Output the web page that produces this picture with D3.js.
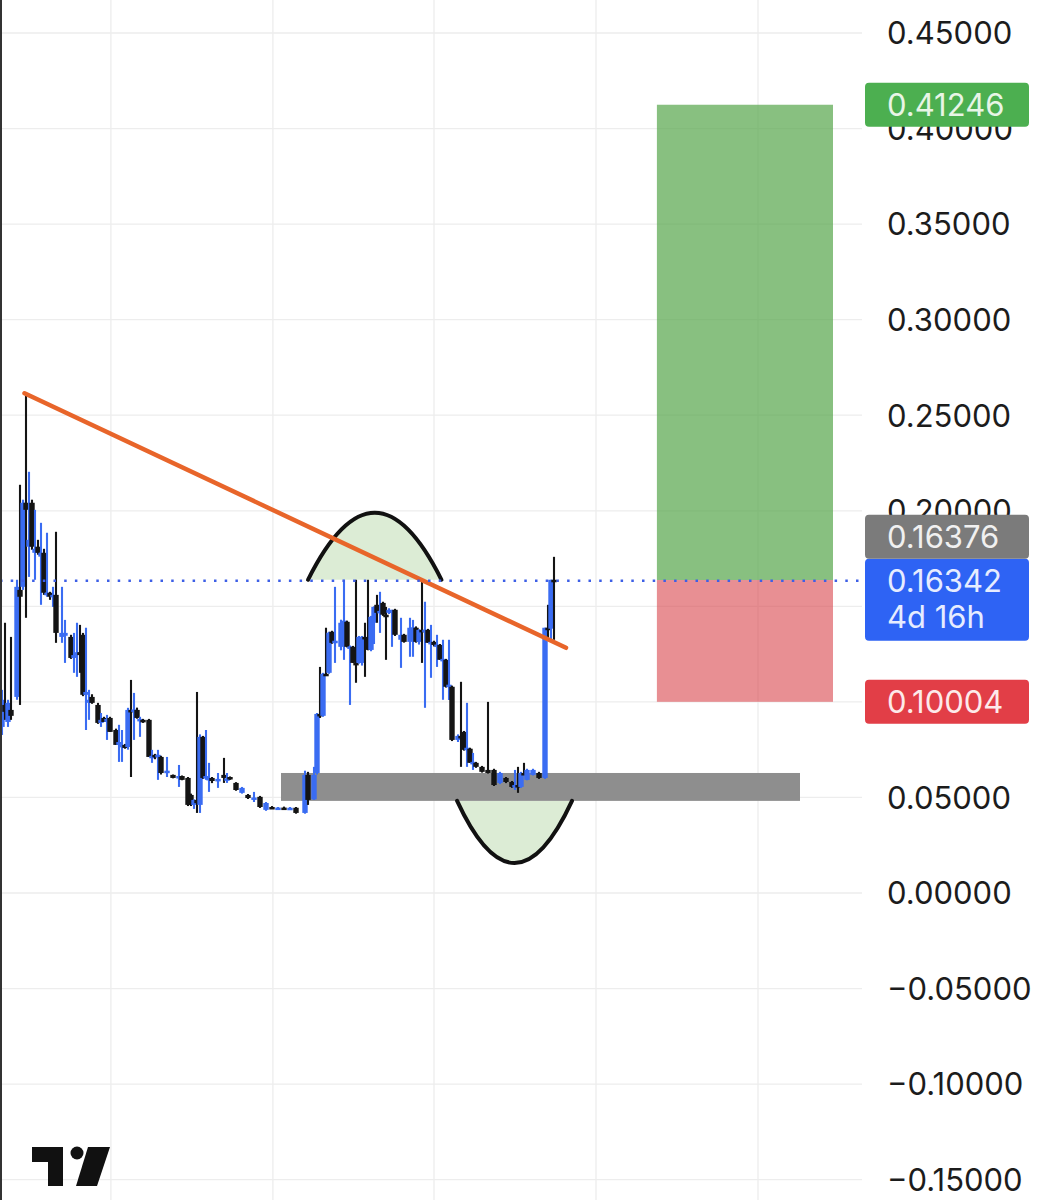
<!DOCTYPE html>
<html><head><meta charset="utf-8">
<script src="https://cdn.jsdelivr.net/npm/d3@7"></script>
<style>html,body{margin:0;padding:0;background:#fff;} svg{display:block}</style>
</head><body><svg id="c" width="1062" height="1200"></svg>
<script>
// ---- data: [day, open, high, low, close]
const candles = [
[0,.0869,.1063,.0827,.1011],[1,.0984,.1414,.0906,.0948],[2,.0895,.1011,.0869,.0995],[3,.0958,.1340,.0906,.0927],
[5,.1026,.1639,.1011,.1602],[6,.1586,.2136,.0984,.1550],[7,.1602,.2058,.1586,.2042],[8,.2042,.2618,.1440,.2005],
[9,.1812,.2204,.1654,.1848],[10,.2042,.2058,.1796,.1812],[11,.1780,.2005,.1639,.1801],[12,.1812,.1848,.1770,.1780],
[13,.1760,.1937,.1508,.1780],[14,.1780,.1801,.1560,.1571],[15,.1560,.1885,.1550,.1571],[16,.1571,.1576,.1534,.1550],
[17,.1550,.1602,.1497,.1560],[18,.1560,.1890,.1309,.1361],[20,.1340,.1602,.1309,.1361],[21,.1346,.1429,.1204,.1361],
[23,.1340,.1351,.1225,.1230],[24,.1230,.1361,.1152,.1245],[25,.1245,.1414,.1131,.1260],[26,.1260,.1403,.1152,.1245],
[27,.1351,.1361,.1030,.1037],[28,.1037,.1388,.0853,.1052],[29,.0995,.1063,.0906,.1011],[30,.1026,.1040,.0990,.0995],
[32,.0984,.0995,.0885,.0890],[33,.0890,.0942,.0869,.0906],[34,.0916,.0922,.0895,.0895],[35,.0895,.0932,.0801,.0911],
[36,.0916,.0922,.0843,.0843],[38,.0853,.0860,.0775,.0775],[39,.0775,.0880,.0686,.0790],[40,.0764,.0853,.0686,.0775],
[41,.0775,.0780,.0755,.0759],[42,.0764,.0969,.0750,.0958],[43,.0958,.1115,.0607,.0953],[44,.0953,.1047,.0801,.0960],
[45,.0958,.0970,.0912,.0916],[46,.0906,.0922,.0817,.0911],[47,.0906,.0911,.0890,.0895],[49,.0906,.0911,.0712,.0712],
[50,.0712,.0749,.0681,.0718],[51,.0723,.0728,.0700,.0712],[52,.0712,.0749,.0592,.0723],[53,.0712,.0718,.0620,.0628],
[55,.0628,.0712,.0607,.0640],[57,.0618,.0620,.0600,.0602],[59,.0602,.0670,.0555,.0612],[60,.0612,.0615,.0590,.0592],
[62,.0602,.0607,.0455,.0461],[63,.0513,.0520,.0455,.0461],[64,.0461,.0490,.0440,.0487],[65,.0487,.1052,.0419,.0470],
[66,.0461,.0830,.0419,.0817],[67,.0817,.0822,.0597,.0602],[68,.0602,.0853,.0592,.0612],[69,.0592,.0681,.0529,.0602],
[70,.0602,.0607,.0575,.0586],[72,.0586,.0628,.0550,.0597],[74,.0618,.0707,.0576,.0602],[75,.0592,.0628,.0576,.0600],
[76,.0607,.0610,.0592,.0597],[78,.0576,.0580,.0535,.0539],[80,.0524,.0555,.0520,.0550],[82,.0513,.0518,.0492,.0497],
[84,.0490,.0529,.0476,.0500],[86,.0503,.0508,.0445,.0450],[88,.0435,.0476,.0430,.0471],[90,.0450,.0455,.0440,.0445],
[92,.0445,.0450,.0440,.0447],[94,.0447,.0452,.0440,.0443],[96,.0443,.0450,.0438,.0446],[98,.0446,.0450,.0415,.0419],
[101,.0419,.0640,.0415,.0618],[102,.0618,.0634,.0461,.0487],[104,.0490,.0660,.0487,.0618],[105,.0628,.0942,.0620,.0937],
[106,.0937,.1183,.0916,.0930],[107,.0927,.1152,.0922,.1147],[108,.1147,.1388,.1140,.1142],[109,.1152,.1367,.1147,.1362],
[110,.1367,.1372,.1304,.1309],[111,.1309,.1602,.1204,.1320],[113,.1288,.1430,.1270,.1414],[114,.1414,.1639,.1220,.1425],
[115,.1419,.1425,.1285,.1288],[116,.1282,.1295,.0984,.1290],[117,.1288,.1293,.1204,.1204],[118,.1204,.1639,.1100,.1200],
[119,.1204,.1345,.1200,.1340],[120,.1204,.1345,.1190,.1340],[121,.1340,.1414,.1131,.1330],[122,.1330,.1639,.1270,.1272],
[123,.1272,.1450,.1265,.1445],[124,.1414,.1500,.1303,.1497],[125,.1508,.1560,.1414,.1466],[126,.1466,.1576,.1361,.1476],
[127,.1518,.1524,.1450,.1456],[128,.1456,.1497,.1220,.1450],[129,.1466,.1490,.1460,.1482],[130,.1470,.1482,.1288,.1478],
[131,.1482,.1487,.1345,.1351],[133,.1325,.1440,.1178,.1351],[134,.1351,.1356,.1310,.1314],[136,.1314,.1440,.1236,.1388],
[137,.1380,.1429,.1236,.1390],[138,.1388,.1395,.1310,.1314],[139,.1314,.1380,.1300,.1377],[140,.1377,.1639,.1204,.1370],
[141,.1370,.1524,.0969,.1377],[142,.1377,.1382,.1309,.1309],[143,.1309,.1403,.1126,.1314],[144,.1314,.1320,.1290,.1298],
[145,.1298,.1351,.1183,.1300],[146,.1298,.1303,.1220,.1220],[147,.1220,.1325,.1011,.1225],[148,.1220,.1225,.1075,.1079],
[149,.1079,.1325,.1010,.1090],[150,.1079,.1085,.0795,.0801],[152,.0801,.0830,.0790,.0822],[153,.0822,.1105,.0660,.0812],
[154,.0843,.0848,.0745,.0749],[155,.0749,.0995,.0660,.0760],[156,.0755,.0760,.0681,.0681],[157,.0675,.0733,.0644,.0686],
[158,.0681,.0686,.0655,.0660],[160,.0660,.0665,.0630,.0634],[162,.0644,.1000,.0625,.0628],[164,.0644,.0650,.0560,.0565],
[166,.0576,.0634,.0570,.0628],[168,.0602,.0607,.0575,.0581],[170,.0581,.0586,.0550,.0555],[171,.0555,.0644,.0539,.0565],
[172,.0565,.0660,.0524,.0560],[173,.0555,.0634,.0550,.0628],[174,.0628,.0681,.0620,.0625],[175,.0592,.0650,.0590,.0644],
[177,.0618,.0650,.0615,.0644],[179,.0628,.0634,.0597,.0602],[181,.0602,.1388,.0597,.1388],[182,.1388,.1508,.1320,.1383],
[183,.1383,.1639,.1325,.1639],[184,.1639,.1759,.1325,.1634]
];
const yTicks = [0.45,0.40,0.35,0.30,0.25,0.20,0.15,0.10,0.05,0.00,-0.05,-0.10,-0.15];
const axisLabelTicks = [0.45,0.40,0.35,0.30,0.25,0.20,0.05,0.00,-0.05,-0.10,-0.15];
const xGridDays = [36.3, 90.3, 144, 198, 252];
const trendLine = [[7.5, 0.2615],[188, 0.1283]];
const supportZone = {t0: 93, t1: 266, low: 0.0482, high: 0.0628};
const arcs = [{t0: 102, t1: 146.5, base: 0.1639, peak: 0.1990},
              {t0: 151.7, t1: 190, base: 0.0482, peak: 0.0157}];
const position = {t0: 218.3, t1: 277, entry: 0.16376, target: 0.41246, stop: 0.10004};
const lastPrice = 0.16342;
const countdown = "4d 16h";

// ---- scales
const W = 1062, H = 1200, plotRight = 862;
const x = d3.scaleLinear().domain([0, 287]).range([2, 863]);
const y = d3.scaleLinear().domain([0, 0.45]).range([893, 33]);
const fmt = d3.format(".5f");
const svg = d3.select("#c");
const FONT = "Inter, 'Noto Sans', sans-serif";
const BLUE = "#3a6cf2", BLACK = "#141414";

svg.append("rect").attr("width", W).attr("height", H).attr("fill", "#fff");

// grid
const grid = svg.append("g").attr("stroke", "#ededed").attr("stroke-width", 1.3);
grid.selectAll(".h").data(yTicks).join("line")
  .attr("x1", 0).attr("x2", plotRight).attr("y1", d => y(d)).attr("y2", d => y(d));
grid.selectAll(".v").data(xGridDays).join("line")
  .attr("x1", d => x(d)).attr("x2", d => x(d)).attr("y1", 0).attr("y2", H);

// position boxes
svg.append("rect").attr("x", x(position.t0)).attr("width", x(position.t1) - x(position.t0))
  .attr("y", y(position.target)).attr("height", y(position.entry) - y(position.target))
  .attr("fill", "#56a54a").attr("fill-opacity", 0.7);
svg.append("rect").attr("x", x(position.t0)).attr("width", x(position.t1) - x(position.t0))
  .attr("y", y(position.entry)).attr("height", y(position.stop) - y(position.entry))
  .attr("fill", "#d9444b").attr("fill-opacity", 0.6);

// support zone
svg.append("rect").attr("x", x(supportZone.t0)).attr("width", x(supportZone.t1) - x(supportZone.t0))
  .attr("y", y(supportZone.high)).attr("height", y(supportZone.low) - y(supportZone.high))
  .attr("fill", "#8e8e8e");

// arcs (quadratic curves)
arcs.forEach(a => {
  const ctrl = a.base + 2 * (a.peak - a.base);
  const p = d3.path();
  p.moveTo(x(a.t0), y(a.base));
  p.quadraticCurveTo(x((a.t0 + a.t1) / 2), y(ctrl), x(a.t1), y(a.base));
  svg.append("path").attr("d", p.toString() + "Z").attr("fill", "#dcecd5");
  svg.append("path").attr("d", p.toString()).attr("fill", "none")
    .attr("stroke", "#111").attr("stroke-width", 4).attr("stroke-linecap", "round");
});

// candles
const cg = svg.append("g");
const cs = cg.selectAll("g").data(candles).join("g");
cs.append("line")
  .attr("x1", d => x(d[0])).attr("x2", d => x(d[0]))
  .attr("y1", d => y(d[2])).attr("y2", d => y(d[3]))
  .attr("stroke", d => d[4] >= d[1] ? BLUE : BLACK).attr("stroke-width", 2.1);
cs.append("rect")
  .attr("x", d => x(d[0]) - 2.7).attr("width", 5.4)
  .attr("y", d => y(Math.max(d[1], d[4])))
  .attr("height", d => Math.max(2.5, Math.abs(y(d[1]) - y(d[4]))))
  .attr("fill", d => d[4] >= d[1] ? BLUE : BLACK);

// trend line
svg.append("line")
  .attr("x1", x(trendLine[0][0])).attr("y1", y(trendLine[0][1]))
  .attr("x2", x(trendLine[1][0])).attr("y2", y(trendLine[1][1]))
  .attr("stroke", "#e8652a").attr("stroke-width", 4.5).attr("stroke-linecap", "round");

// last price dotted line
svg.append("line").attr("x1", 0).attr("x2", plotRight)
  .attr("y1", y(lastPrice)).attr("y2", y(lastPrice))
  .attr("stroke", "#3d5fe6").attr("stroke-width", 2.5).attr("stroke-dasharray", "2.5,8.2");

// left border
svg.append("line").attr("x1", 1).attr("x2", 1).attr("y1", 0).attr("y2", H)
  .attr("stroke", "#333").attr("stroke-width", 2);

// axis
const axis = d3.axisRight(y).tickValues(yTicks).tickSize(0).tickPadding(25).tickFormat(fmt);
const ag = svg.append("g").attr("transform", `translate(${plotRight},0)`).call(axis);
ag.select(".domain").remove();
ag.selectAll("text").attr("font-family", FONT).attr("font-size", 31).attr("fill", "#1c1c1c")
  .attr("dy", "0.35em");
ag.selectAll(".tick").filter(d => !axisLabelTicks.includes(d)).remove();

// price labels
const labels = [
  {v: position.target, text: [fmt(position.target)], color: "#4caf50", tcol: "#e8f5e6"},
  {v: position.stop, text: [fmt(position.stop)], color: "#e23e47", tcol: "#fdeaea"},
  {v: lastPrice, text: [fmt(lastPrice), countdown], color: "#2e63f4", tcol: "#e6ecff"}
];
const lh = 44, lx = 865, lw = 164;
function drawLabel(top, lines, color, tcol) {
  const h = lines.length === 1 ? lh : 82;
  svg.append("rect").attr("x", lx).attr("y", top).attr("width", lw).attr("height", h)
    .attr("rx", 4).attr("fill", color);
  lines.forEach((t, i) => {
    svg.append("text").attr("x", 887).attr("y", top + 22 + i * 36).attr("dy", "0.35em")
      .attr("font-family", FONT).attr("font-size", 31).attr("fill", tcol).text(t);
  });
}
labels.forEach(l => drawLabel(y(l.v) - 22, l.text, l.color, l.tcol));
// entry label pushed above the last-price label
drawLabel(y(lastPrice) - 22 - lh, [fmt(position.entry)], "#7b7b7b", "#f0f0f0");

// TradingView logo
const logo = svg.append("g").attr("fill", "#111");
logo.append("path").attr("d", "M32,1147 H63 V1186 H48 V1162 H32 Z");
logo.append("circle").attr("cx", 77).attr("cy", 1153).attr("r", 6.5);
logo.append("path").attr("d", "M88,1147 H110 L97,1186 H76 Z");
</script></body></html>
